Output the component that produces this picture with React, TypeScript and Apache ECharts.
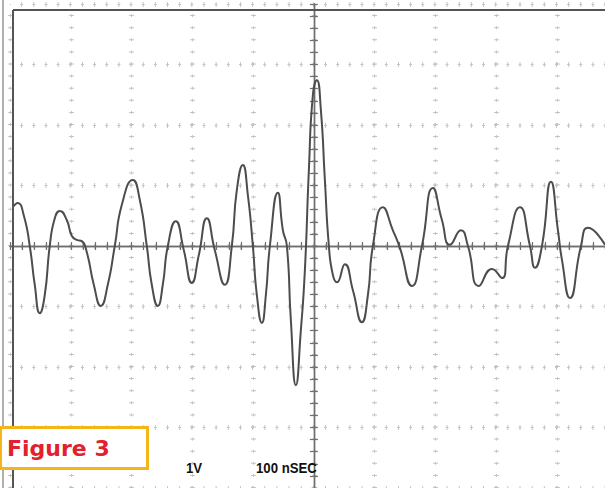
import React, { useEffect, useRef } from "react";
import * as echarts from "echarts";

// Oscilloscope trace: time (ns) and amplitude (V)
const timeNs = [
  -495.5, -487.2, -477.4, -467.5, -459.3, -451.0, -442.8, -434.6, -426.3, -418.1,
  -406.6, -398.4, -390.1, -381.9, -373.7, -362.1, -350.6, -339.1, -327.6, -316.0,
  -297.9, -286.4, -274.9, -266.7, -256.8, -248.6, -240.3, -227.2, -214.0, -200.8,
  -189.3, -176.1, -163.0, -146.5, -135.0, -126.7, -116.9, -108.6, -100.4, -93.8,
  -85.6, -79.0, -72.4, -59.3, -51.0, -44.4, -37.9, -29.6, -21.4, -14.8,
  -8.2, -1.6, 4.9, 11.5, 18.1, 24.7, 31.3, 37.9, 51.0, 64.2,
  79.0, 88.9, 97.1, 113.6, 130.0, 141.6, 161.3, 177.8, 195.9, 210.7,
  223.9, 242.0, 253.5, 271.6, 293.0, 309.5, 319.3, 339.1, 355.6, 363.8,
  375.3, 390.1, 401.6, 408.2, 421.4, 439.5, 451.0, 479.0,
];
const volts = [
  0.64, 0.71, 0.51, 0, -0.64, -1.11, -0.81, 0, 0.46, 0.58,
  0.43, 0.17, 0.1, 0.08, -0.1, -0.64, -0.99, -0.64, 0, 0.68,
  1.09, 0.76, 0, -0.64, -0.99, -0.64, 0, 0.41, -0.07, -0.61,
  -0.15, 0.46, -0.07, -0.64, 0, 0.93, 1.34, 0.84, 0, -0.81,
  -1.27, -0.81, 0, 0.88, 0.26, 0, -1.22, -2.3, -1.39, -0.4,
  1.26, 2.5, 2.74, 2.25, 1.09, 0, -0.48, -0.6, -0.3, -0.73,
  -1.26, -0.81, 0, 0.64, 0.26, -0.03, -0.66, 0, 0.96, 0.43,
  0.02, 0.26, 0, -0.66, -0.38, -0.53, 0, 0.64, 0, -0.36,
  0, 1.06, 0.26, -0.23, -0.86, 0, 0.3, 0.02,
];

// Graticule: 10 horizontal divisions of 100 ns, 8 vertical divisions of 1 V
const timeRange = [-500, 500];
const timeStep = 100;
const voltRange = [-4, 4];
const voltStep = 1;
const figureLabel = "Figure 3";
const voltScaleLabel = "1V";
const timeScaleLabel = "100 nSEC";

const GRID_LEFT = 10;
const GRID_TOP = 4;
const GRID_W = 607.75;
const GRID_H = 484;
const subX = GRID_W / 10 / 5;
const subY = GRID_H / 8 / 5;

const gridColor = "#c4c4c4";
const axisColor = "#6e6e6e";

function xAxisDef(position: "bottom" | "top", crossBar: boolean) {
  return {
    type: "value",
    position,
    min: timeRange[0],
    max: timeRange[1],
    interval: timeStep,
    axisLine: { show: true, onZero: true, lineStyle: { color: axisColor, width: 1.4 } },
    axisTick: { show: true, length: 4, lineStyle: { color: axisColor, width: 1.2 } },
    minorTick: { show: true, splitNumber: 5, length: 4, lineStyle: { color: axisColor, width: 1.2 } },
    axisLabel: { show: false },
    splitLine: {
      show: true,
      lineStyle: crossBar
        ? { color: gridColor, width: 5, type: [1, subY - 1], dashOffset: 0.5 }
        : { color: gridColor, width: 1, type: [3, subY - 3], dashOffset: 1.5 },
    },
  };
}

function yAxisDef(position: "left" | "right", crossBar: boolean) {
  return {
    type: "value",
    position,
    min: voltRange[0],
    max: voltRange[1],
    interval: voltStep,
    axisLine: { show: true, onZero: true, lineStyle: { color: axisColor, width: 1.4 } },
    axisTick: { show: true, length: 4, lineStyle: { color: axisColor, width: 1.2 } },
    minorTick: { show: true, splitNumber: 5, length: 4, lineStyle: { color: axisColor, width: 1.2 } },
    axisLabel: { show: false },
    splitLine: {
      show: true,
      lineStyle: crossBar
        ? { color: gridColor, width: 5, type: [1, subX - 1], dashOffset: 0.5 }
        : { color: gridColor, width: 1, type: [3, subX - 3], dashOffset: 1.5 },
    },
  };
}

export default function App() {
  const ref = useRef<HTMLDivElement>(null);
  useEffect(() => {
    document.body.style.margin = "0";
    const chart = echarts.init(ref.current!, undefined, { renderer: "svg" });
    const data = timeNs.map((t, i) => [t, volts[i]]);
    chart.setOption({
      animation: false,
      backgroundColor: "#ffffff",
      grid: {
        left: GRID_LEFT,
        top: GRID_TOP,
        width: GRID_W,
        height: GRID_H,
        containLabel: false,
        outerBoundsMode: "none",
      },
      xAxis: [xAxisDef("bottom", false), xAxisDef("top", true)],
      yAxis: [yAxisDef("left", false), yAxisDef("right", true)],
      series: [
        {
          type: "line",
          data,
          xAxisIndex: 0,
          yAxisIndex: 0,
          smooth: 0.55,
          showSymbol: false,
          lineStyle: { color: "#4d4d4d", width: 2 },
          z: 5,
        },
      ],
      graphic: [
        { type: "line", shape: { x1: 3, y1: 0, x2: 3, y2: 488 }, style: { stroke: "#b0b0b0", lineWidth: 2 }, z: 10 },
        { type: "line", shape: { x1: 13, y1: 10, x2: 605, y2: 10 }, style: { stroke: "#555", lineWidth: 2 }, z: 10 },
        { type: "line", shape: { x1: 13, y1: 10, x2: 13, y2: 488 }, style: { stroke: "#555", lineWidth: 2 }, z: 10 },
        {
          type: "rect",
          shape: { x: 0.5, y: 427.5, width: 147, height: 41 },
          style: { fill: "#ffffff", stroke: "#f5b41a", lineWidth: 3 },
          z: 20,
        },
        {
          type: "text",
          x: 7,
          y: 448,
          style: {
            text: figureLabel,
            fill: "#e3202c",
            font: "bold 22px 'DejaVu Sans', sans-serif",
            verticalAlign: "middle",
            align: "left",
          },
          z: 21,
        },
        {
          type: "text",
          x: 186,
          y: 468,
          scaleX: 0.88,
          style: {
            text: voltScaleLabel,
            fill: "#111",
            font: "bold 15px 'Liberation Sans', sans-serif",
            verticalAlign: "middle",
            align: "left",
          },
          z: 21,
        },
        {
          type: "text",
          x: 256,
          y: 468,
          scaleX: 0.88,
          style: {
            text: timeScaleLabel,
            fill: "#111",
            font: "bold 15px 'Liberation Sans', sans-serif",
            verticalAlign: "middle",
            align: "left",
          },
          z: 21,
        },
      ],
    });
    return () => chart.dispose();
  }, []);
  return <div ref={ref} style={{ width: 605, height: 488 }} />;
}
